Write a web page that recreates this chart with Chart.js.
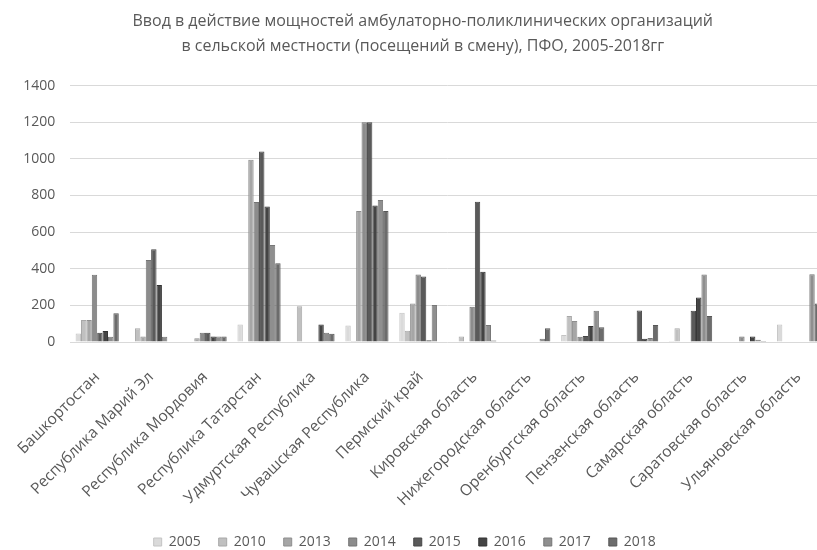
<!DOCTYPE html>
<html>
<head>
<meta charset="utf-8">
<script src="https://cdn.jsdelivr.net/npm/chart.js@4"></script>
<style>
  html, body { margin: 0; padding: 0; background: #fff; overflow: hidden; }
</style>
</head>
<body>
<canvas id="myChart" width="840" height="550"></canvas>
<script>
'use strict';

const regions = [
  'Башкортостан',
  'Республика Марий Эл',
  'Республика Мордовия',
  'Республика Татарстан',
  'Удмуртская Республика',
  'Чувашская Республика',
  'Пермский край',
  'Кировская область',
  'Нижегородская область',
  'Оренбургская область',
  'Пензенская область',
  'Самарская область',
  'Саратовская область',
  'Ульяновская область'
];

const years = ['2005', '2010', '2013', '2014', '2015', '2016', '2017', '2018'];

// посещений в смену, по регионам (порядок как в regions)
const v2005 = [47, 0, 0, 95, 0, 90, 160, 0, 0, 38, 0, 5, 0, 95];
const v2010 = [120, 75, 0, 0, 195, 5, 62, 30, 0, 142, 0, 75, 0, 0];
const v2013 = [120, 30, 20, 995, 0, 715, 210, 0, 0, 115, 0, 0, 0, 0];
const v2014 = [367, 448, 50, 765, 0, 1200, 368, 193, 0, 29, 0, 0, 30, 0];
const v2015 = [51, 506, 50, 1040, 0, 1200, 357, 766, 0, 33, 172, 171, 0, 0];
const v2016 = [60, 311, 30, 740, 95, 745, 10, 384, 0, 87, 18, 243, 30, 0];
const v2017 = [29, 28, 30, 530, 50, 775, 202, 93, 18, 171, 22, 368, 12, 370];
const v2018 = [157, 0, 30, 430, 45, 715, 0, 8, 75, 80, 93, 142, 5, 210];

const yTicks = [0, 200, 400, 600, 800, 1000, 1200, 1400];

const seriesValues = [v2005, v2010, v2013, v2014, v2015, v2016, v2017, v2018];
const fills = ['#dadada', '#c0c0c0', '#a6a6a6', '#8c8c8c', '#5a5a5a', '#444444', '#8f8f8f', '#6c6c6c'];
const edges = ['#c4c4c4', '#a8a8a8', '#8e8e8e', '#747474', '#464646', '#333333', '#777777', '#575757'];

const textColor = '#595959';
const fontName = '"Open Sans", "Noto Sans", sans-serif';

// the excel picture is cut on the right, title and legend were centred on the whole chart
let titleShift = 10;
let legendShift = -8;
let legendDown = 9;

const moveBoxes = {
  id: 'moveBoxes',
  afterLayout(chart) {
    const t = chart.titleBlock;
    t.left += titleShift;
    t.right += titleShift;
    const l = chart.legend;
    l.left += legendShift;
    l.right += legendShift;
    l.top += legendDown;
    l.bottom += legendDown;
  }
};

const datasets = [];
for (let i = 0; i < years.length; i++) {
  datasets.push({
    label: years[i],
    data: seriesValues[i],
    backgroundColor: fills[i],
    borderColor: edges[i],
    borderWidth: 1,
    categoryPercentage: 0.8,
    barPercentage: 1.0
  });
}

const ctx = document.getElementById('myChart').getContext('2d');
const chart = new Chart(ctx, {
  type: 'bar',
  data: {
    labels: regions,
    datasets: datasets
  },
  options: {
    responsive: false,
    animation: false,
    layout: {
      padding: { left: 0, right: 14.5, top: 0, bottom: 0 }
    },
    plugins: {
      title: {
        display: true,
        text: [
          'Ввод в действие мощностей амбулаторно-поликлинических организаций',
          'в сельской местности (посещений в смену), ПФО, 2005-2018гг'
        ],
        color: textColor,
        font: { family: fontName, size: 16, weight: 'normal', lineHeight: 1.55 },
        padding: { top: 9.5, bottom: 26.5 }
      },
      legend: {
        position: 'bottom',
        labels: {
          color: textColor,
          font: { family: fontName, size: 14 },
          boxWidth: 8,
          boxHeight: 8,
          padding: 18
        }
      },
      tooltip: { enabled: false }
    },
    scales: {
      x: {
        grid: { display: false },
        border: { display: false },
        ticks: {
          color: textColor,
          font: { family: fontName, size: 15.5 },
          autoSkip: false,
          maxRotation: 45,
          minRotation: 45,
          padding: 18
        },
        afterFit(scale) {
          scale.height = 166;
        }
      },
      y: {
        min: 0,
        max: 1400,
        afterBuildTicks(scale) {
          scale.ticks = yTicks.map(v => ({ value: v }));
        },
        grid: { color: '#d9d9d9', lineWidth: 1, drawTicks: false },
        border: { display: false },
        ticks: {
          color: textColor,
          font: { family: fontName, size: 14 },
          padding: 15,
          callback: (v) => String(v)
        },
        afterFit(scale) {
          scale.width = 70;
        }
      }
    }
  },
  plugins: [moveBoxes]
});
</script>
</body>
</html>
